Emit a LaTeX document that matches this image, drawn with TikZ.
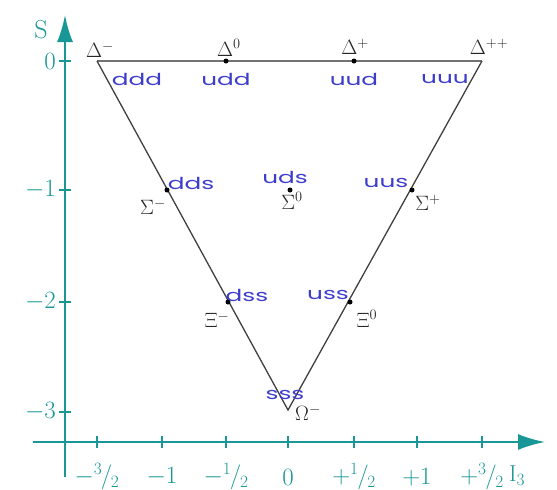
\documentclass[tikz,border=0pt]{standalone}
\usepackage{amsmath}
\usepackage{fontspec}
\usepackage{graphicx}
\usetikzlibrary{arrows.meta}

\newfontfamily\quarkfont{Poppins}
\definecolor{axisteal}{RGB}{25,150,150}
\definecolor{quarkblue}{RGB}{60,60,205}
\newcommand{\qk}[1]{\scalebox{1.5}[1]{#1}}
\newcommand{\halfof}[1]{{}^{#1}\mkern-1mu/\mkern-1mu{}_{2}}

\begin{document}
\begin{tikzpicture}[x=1pt, y=-1pt,
    axis/.style={axisteal, line width=2.2pt},
    tickmark/.style={axisteal, line width=1.4pt},
    ticklabel/.style={axisteal, inner sep=0pt, font=\fontsize{23}{25}\selectfont},
    edge/.style={black!75, line width=1.3pt},
    dot/.style={circle, fill=black, inner sep=0pt, minimum size=5pt},
    baryon/.style={black!85, inner sep=0pt, font=\fontsize{21}{23}\selectfont},
    quark/.style={quarkblue, inner sep=0pt, font=\quarkfont\fontsize{16.5}{17}\selectfont}]
    \useasboundingbox (0,0) rectangle (557,490);

    % axes
    \coordinate (xstart) at (33,442);
    \coordinate (xend) at (545,442);
    \coordinate (ystart) at (65,477);
    \coordinate (yend) at (65,15);
    \draw[axis, -{Latex[length=27pt, width=16pt]}] (xstart) -- (xend);
    \draw[axis, -{Latex[length=27pt, width=16pt]}] (ystart) -- (yend);
    \node[ticklabel] (ilabel) at (517,476) {$\mathrm{I}_3$};
    \node[ticklabel, font=\fontsize{26}{28}\selectfont] (slabel) at (41,30) {S};

    % ticks on I3
    \foreach \x/\lab in {97/$-\halfof{3}$, 162/$-1$, 226/$-\halfof{1}$, 288/$0$,
                         354/$+\halfof{1}$, 417/$+1$, 482/$+\halfof{3}$} {
        \draw[tickmark] (\x,436) -- (\x,448);
        \node[ticklabel] at (\x,477) {\lab};
    }
    % ticks on S
    \foreach \y/\lab in {61/$0$, 190/$-1$, 302/$-2$, 412/$-3$} {
        \draw[tickmark] (59,\y) -- (71,\y);
        \node[ticklabel, anchor=east] at (56,\y) {\lab};
    }

    % decuplet triangle
    \coordinate (dm) at (97,61);
    \coordinate (dpp) at (482,61);
    \coordinate (om) at (288,410);
    \draw[edge, black!55] (dm) -- (dpp);
    \draw[edge] (dm) -- (om) -- (dpp);

    \node[dot] (d0) at (226,61) {};
    \node[dot] (dp) at (354,61) {};
    \node[dot] (sm) at (167,190) {};
    \node[dot] (s0) at (290,190) {};
    \node[dot] (sp) at (412,190) {};
    \node[dot] (xm) at (228,302) {};
    \node[dot] (x0) at (350,302) {};

    % particle names
    \node[baryon] (ldm) at (100,50) {$\Delta^{-}$};
    \node[baryon] (ld0) at (229,48) {$\Delta^{0}$};
    \node[baryon] (ldp) at (355,47) {$\Delta^{+}$};
    \node[baryon] (ldpp) at (489,47) {$\Delta^{++}$};
    \node[baryon] (lsm) at (153,207) {$\Sigma^{-}$};
    \node[baryon] (ls0) at (292,201) {$\Sigma^{0}$};
    \node[baryon] (lsp) at (428,203) {$\Sigma^{+}$};
    \node[baryon] (lxm) at (217,320) {$\Xi^{-}$};
    \node[baryon] (lx0) at (367,319) {$\Xi^{0}$};
    \node[baryon] (lom) at (308,413) {$\Omega^{-}$};

    % quark content
    \node[quark] (qddd) at (137,79) {\qk{ddd}};
    \node[quark] (qudd) at (226,79) {\qk{udd}};
    \node[quark] (quud) at (354,79) {\qk{uud}};
    \node[quark] (quuu) at (445,79) {\qk{uuu}};
    \node[quark] (qdds) at (191,183) {\qk{dds}};
    \node[quark] (quds) at (285,177) {\qk{uds}};
    \node[quark] (quus) at (386,183) {\qk{uus}};
    \node[quark] (qdss) at (247,295) {\qk{dss}};
    \node[quark] (quss) at (328,295) {\qk{uss}};
    \node[quark] (qsss) at (285,395) {\qk{sss}};
\end{tikzpicture}
\end{document}
